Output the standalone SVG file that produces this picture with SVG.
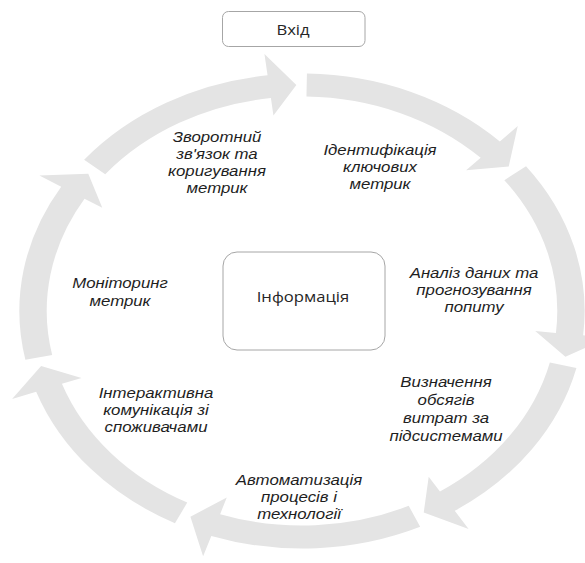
<svg xmlns="http://www.w3.org/2000/svg" xmlns:xlink="http://www.w3.org/1999/xlink" width="585" height="563" viewBox="0 0 585 563">
<style>
.ring{fill:#e4e4e4;stroke:none}
.box{fill:#ffffff;stroke:#a6a6a6;stroke-width:1}
.t{font-family:"Open Sans","DejaVu Sans",sans-serif;font-size:14px;fill:#262626;text-anchor:middle}
.i{font-family:"Liberation Sans","Arial",sans-serif;font-style:italic;font-size:14px;fill:#1e1e1e;text-anchor:middle}
</style>
<defs>
<path id="seg" d="M-183.09,-151.31 A237.5,237.5 0 0 1 -28.94,-235.73 L-31.56,-257.07 L-4.73,-225.95 L-24.01,-195.53 L-26.14,-212.90 A214.5,214.5 0 0 0 -165.36,-136.66 Z"/>
</defs>
<g id="connectors" class="ring" transform="translate(302,311) scale(1.19,1)">
<use xlink:href="#seg"/>
<use xlink:href="#seg" transform="rotate(51.4286)"/>
<use xlink:href="#seg" transform="rotate(102.857)"/>
<use xlink:href="#seg" transform="rotate(154.286)"/>
<use xlink:href="#seg" transform="rotate(205.714)"/>
<use xlink:href="#seg" transform="rotate(257.143)"/>
<use xlink:href="#seg" transform="rotate(308.571)"/>
</g>
<g id="input">
<rect class="box" x="222.5" y="11.5" width="142.5" height="35" rx="6"/>
<text class="t" transform="translate(293,35) scale(1.19,1)">Вхід</text>
</g>
<g id="info">
<rect class="box" x="223" y="252" width="162" height="98" rx="14"/>
<text class="t" transform="translate(303,302) scale(1.19,1)">Інформація</text>
</g>
<g id="step1">
<text class="i" transform="translate(380,155) scale(1.2,1)">Ідентифікація</text>
<text class="i" transform="translate(380,172) scale(1.2,1)">ключових</text>
<text class="i" transform="translate(380,189) scale(1.2,1)">метрик</text>
</g>
<g id="step2">
<text class="i" transform="translate(474,278) scale(1.2,1)">Аналіз даних та</text>
<text class="i" transform="translate(474,295) scale(1.2,1)">прогнозування</text>
<text class="i" transform="translate(474,312) scale(1.2,1)">попиту</text>
</g>
<g id="step3">
<text class="i" transform="translate(446,387) scale(1.2,1)">Визначення</text>
<text class="i" transform="translate(446,405) scale(1.2,1)">обсягів</text>
<text class="i" transform="translate(446,423) scale(1.2,1)">витрат за</text>
<text class="i" transform="translate(446,441) scale(1.2,1)">підсистемами</text>
</g>
<g id="step4">
<text class="i" transform="translate(299,485) scale(1.2,1)">Автоматизація</text>
<text class="i" transform="translate(299,502) scale(1.2,1)">процесів і</text>
<text class="i" transform="translate(299,519) scale(1.2,1)">технології</text>
</g>
<g id="step5">
<text class="i" transform="translate(156,398) scale(1.2,1)">Інтерактивна</text>
<text class="i" transform="translate(156,415) scale(1.2,1)">комунікація зі</text>
<text class="i" transform="translate(156,432) scale(1.2,1)">споживачами</text>
</g>
<g id="step6">
<text class="i" transform="translate(120,288) scale(1.2,1)">Моніторинг</text>
<text class="i" transform="translate(120,306) scale(1.2,1)">метрик</text>
</g>
<g id="step7">
<text class="i" transform="translate(217,142) scale(1.2,1)">Зворотний</text>
<text class="i" transform="translate(217,159) scale(1.2,1)">зв'язок та</text>
<text class="i" transform="translate(217,176) scale(1.2,1)">коригування</text>
<text class="i" transform="translate(217,193) scale(1.2,1)">метрик</text>
</g>
</svg>
